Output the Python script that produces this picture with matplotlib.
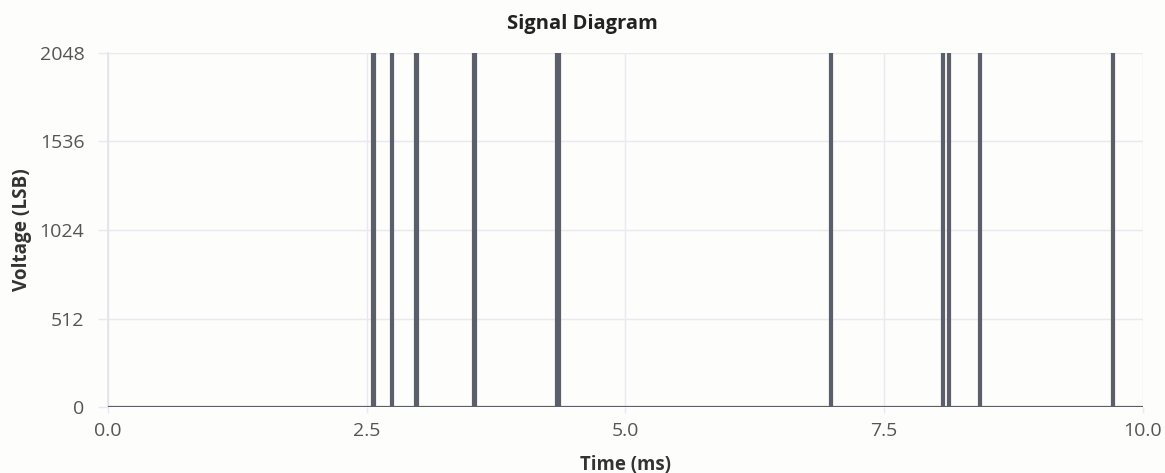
import numpy as np
import matplotlib

matplotlib.use("Agg")
import matplotlib.pyplot as plt

# pulse start times (ms) and their durations (ms), amplitude in LSB
pulse_start = [2.555, 2.730, 2.962, 3.530, 4.330, 6.972, 8.058, 8.112, 8.418, 9.696]
pulse_width = [0.012, 0.012, 0.022, 0.012, 0.025, 0.012, 0.012, 0.012, 0.012, 0.012]
pulse_level = 2048
t_start, t_end = 0.0, 10.0
y_ticks = [0, 512, 1024, 1536, 2048]
x_ticks = [0.0, 2.5, 5.0, 7.5, 10.0]

# build the step waveform from the pulse list
t = [t_start]
v = [0]
for s, w in zip(pulse_start, pulse_width):
    t += [s, s, s + w, s + w]
    v += [0, pulse_level, pulse_level, 0]
t.append(t_end)
v.append(0)

plt.rcParams["font.family"] = ["Open Sans", "DejaVu Sans"]

fig = plt.figure(figsize=(11.65, 4.73), dpi=100, facecolor="#fdfdfc")
ax = fig.add_axes([0.0927, 0.1395, 0.8884, 0.7485])
ax.set_facecolor("#fdfdfc")

ax.plot(t, v, color="#5b5f69", linewidth=2.3, solid_joinstyle="miter", zorder=3)

ax.set_xlim(t_start, t_end)
ax.set_ylim(0, pulse_level)
ax.set_xticks(x_ticks)
ax.set_xticklabels([f"{x:.1f}" for x in x_ticks])
ax.set_yticks(y_ticks)
ax.grid(color="#ebe8ef", linewidth=1.0, zorder=0)

for side in ["top", "right", "bottom"]:
    ax.spines[side].set_visible(False)
ax.spines["left"].set_color("#e4e1ea")
ax.spines["left"].set_linewidth(1.2)

ax.tick_params(axis="both", colors="#ebe8ef", width=1.0,
               labelcolor="#555555", labelsize=14)
ax.tick_params(axis="x", length=4.5, pad=6)
ax.tick_params(axis="y", length=7, pad=10)

# title is centred on the whole figure, not the plot area
fig.text(0.5, 0.9387, "Signal Diagram", ha="center", va="baseline",
         fontsize=14.5, fontweight="bold", color="#222222")
ax.set_xlabel("Time (ms)", fontsize=13.4, fontweight="bold", color="#333333")
ax.set_ylabel("Voltage (LSB)", fontsize=13.6, fontweight="bold", color="#333333")
ax.xaxis.set_label_coords(0.5, -0.136)
ax.yaxis.set_label_coords(-0.0734, 0.5)

plt.savefig("out.png", dpi=100, facecolor=fig.get_facecolor())
plt.close()
